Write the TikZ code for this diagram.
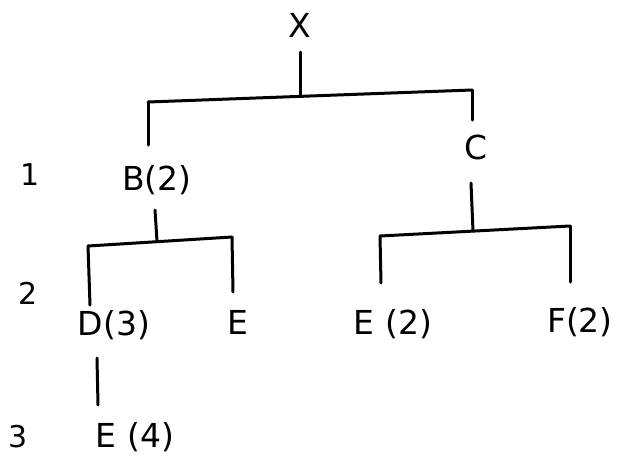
\documentclass[tikz,border=0pt]{standalone}
\usepackage{fontspec}
\setmainfont{DejaVu Sans}
\begin{document}
\begin{tikzpicture}[x=1pt,y=-1pt,
  lbl/.style={inner sep=1pt, font=\fontsize{33}{38}\selectfont},
  lvl/.style={inner sep=1pt, font=\fontsize{30}{34}\selectfont},
  br/.style={line width=3pt, line cap=round}]
\useasboundingbox (0,0) rectangle (622,459);
% nodes
\node[lbl] (X) at (300,25) {X};
\node[lbl] (B) at (157,180) {B(2)};
\node[lbl] (C) at (476,147) {C};
\node[lbl] (D) at (114,325) {D(3)};
\node[lbl] (E1) at (238,322) {E};
\node[lbl] (E2) at (393,324) {E (2)};
\node[lbl] (F) at (580,322) {F(2)};
\node[lbl] (E4) at (135,437) {E (4)};
\node[lvl] (l1) at (30,175) {1};
\node[lvl] (l2) at (28,293) {2};
\node[lvl] (l3) at (18,437) {3};
% junction coordinates
\coordinate (tX) at (300,52);
\coordinate (jX) at (300,96);
\coordinate (bXl) at (148,102);
\coordinate (bXr) at (472,90);
\coordinate (tB) at (148,145);
\coordinate (tC) at (472,120);
\coordinate (sB) at (155,210);
\coordinate (jB) at (157,241);
\coordinate (bBl) at (88,246);
\coordinate (bBr) at (232,237);
\coordinate (tD) at (90,305);
\coordinate (tE1) at (233,292);
\coordinate (sC) at (471,183);
\coordinate (jC) at (473,231);
\coordinate (bCl) at (380,236);
\coordinate (bCr) at (570,226);
\coordinate (tE2) at (381,283);
\coordinate (tF) at (570,282);
\coordinate (sD) at (97,358);
\coordinate (tE4) at (98,405);
% connectors
\draw[br] (tX) -- (jX);
\draw[br] (bXl) -- (bXr);
\draw[br] (bXl) -- (tB);
\draw[br] (bXr) -- (tC);
\draw[br] (sB) -- (jB);
\draw[br] (bBl) -- (bBr);
\draw[br] (bBl) -- (tD);
\draw[br] (bBr) -- (tE1);
\draw[br] (sC) -- (jC);
\draw[br] (bCl) -- (bCr);
\draw[br] (bCl) -- (tE2);
\draw[br] (bCr) -- (tF);
\draw[br] (sD) -- (tE4);
\end{tikzpicture}
\end{document}
